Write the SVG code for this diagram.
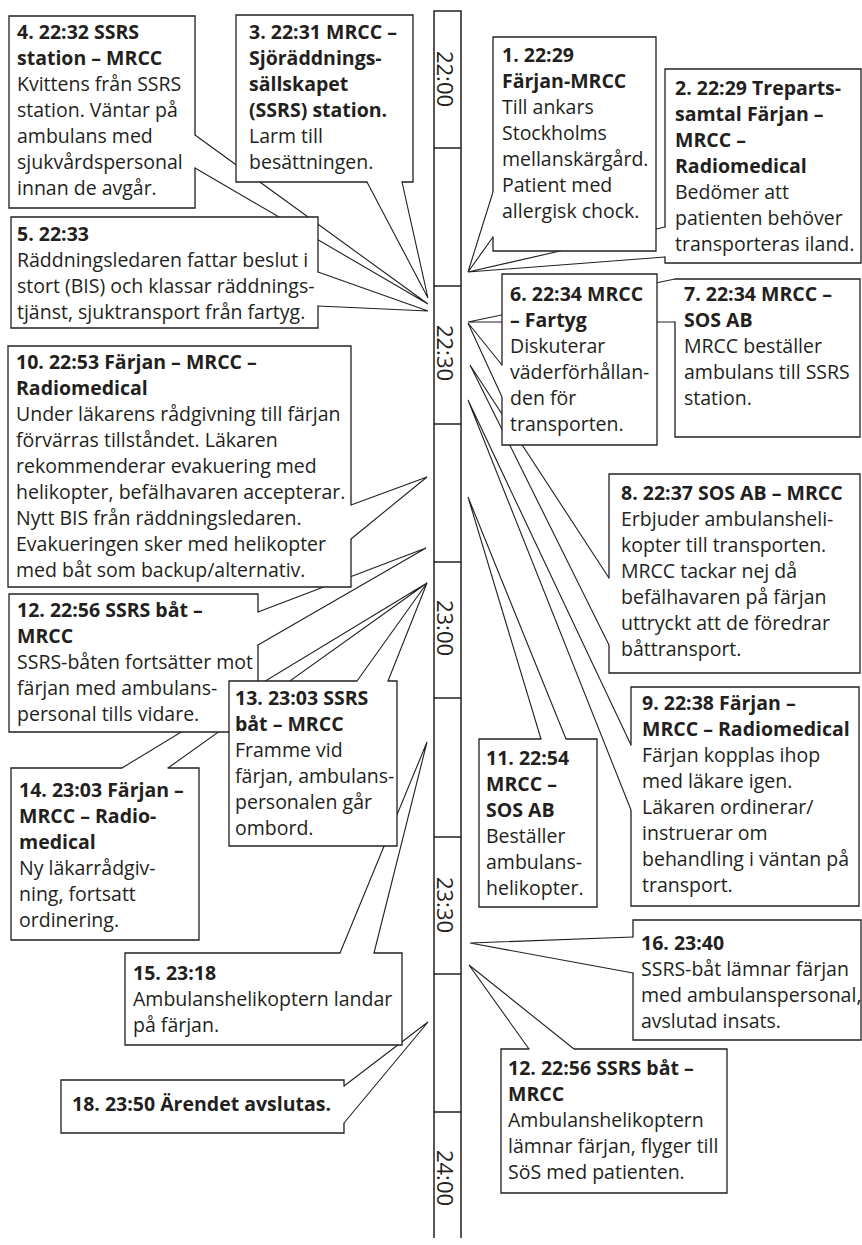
<svg xmlns="http://www.w3.org/2000/svg" width="862" height="1245" viewBox="0 0 862 1245">
<style>
.bx{fill:#fff;stroke:#231f20;stroke-width:1.3;stroke-linejoin:miter;stroke-linecap:round}
.cn{fill:none;stroke:#231f20;stroke-width:1.1;stroke-linejoin:miter}
.tl{fill:none;stroke:#231f20;stroke-width:1.5}
text{font-family:"Open Sans","Noto Sans","Liberation Sans",sans-serif;fill:#231f20}
.t{font-size:19.5px}
.b{font-weight:bold}
.tm{font-size:22px}
</style>
<rect width="862" height="1245" fill="#fff"/>
<g id="timeline">
<path class="tl" d="M434,1238 V11 H461 V1238 M434,148 H461 M434,286 H461 M434,424 H461 M434,562 H461 M434,698 H461 M434,837 H461 M434,974 H461 M434,1112 H461"/>
<text class="tm" text-anchor="middle" transform="translate(437,79) rotate(90)">22:00</text>
<text class="tm" text-anchor="middle" transform="translate(437,353) rotate(90)">22:30</text>
<text class="tm" text-anchor="middle" transform="translate(437,628) rotate(90)">23:00</text>
<text class="tm" text-anchor="middle" transform="translate(437,905) rotate(90)">23:30</text>
<text class="tm" text-anchor="middle" transform="translate(437,1178) rotate(90)">24:00</text>
</g>
<g id="connectors">
<polyline class="cn" points="493,192 468,272 493,237"/>
<polyline class="cn" points="665,227 468,272 665,257"/>
<polyline class="cn" points="367,182 428,298 402,182"/>
<polyline class="cn" points="195,135 428,304 195,168"/>
<polyline class="cn" points="318,272 428,311 318,306"/>
<polyline class="cn" points="502,365 468,323 502,397"/>
<polyline class="cn" points="675,279 468,322 675,322"/>
<polyline class="cn" points="609,578 470,365 609,645"/>
<polyline class="cn" points="631,745 468,400 631,810"/>
<polyline class="cn" points="351,505 427,477 351,539"/>
<polyline class="cn" points="541,739 468,497 566,739"/>
<polyline class="cn" points="258,612 426,548 258,645"/>
<polyline class="cn" points="357,681 427,583 388,681"/>
<polyline class="cn" points="122,768 427,583 168,768"/>
<polyline class="cn" points="340,953 427,742 374,953"/>
<polyline class="cn" points="633,937 470,943 633,973"/>
<polyline class="cn" points="529,1049 469,965 574,1049"/>
<polyline class="cn" points="344,1086 428,1022 344,1123"/>
</g>
<g id="n4">
<path class="bx" d="M195,168 V208 H9 V16 H195 V135"/>
<text class="t"><tspan class="b" x="17" y="39">4. 22:32 SSRS</tspan><tspan class="b" x="17" y="65">station – MRCC</tspan><tspan x="17" y="91">Kvittens från SSRS</tspan><tspan x="17" y="117">station. Väntar på</tspan><tspan x="17" y="143">ambulans med</tspan><tspan x="17" y="169">sjukvårdspersonal</tspan><tspan x="17" y="195">innan de avgår.</tspan></text>
</g>
<g id="n3">
<path class="bx" d="M402,182 H413 V15 H236 V182 H367"/>
<text class="t"><tspan class="b" x="249" y="39">3. 22:31 MRCC –</tspan><tspan class="b" x="249" y="65">Sjöräddnings-</tspan><tspan class="b" x="249" y="91">sällskapet</tspan><tspan class="b" x="249" y="117">(SSRS) station.</tspan><tspan x="249" y="143">Larm till</tspan><tspan x="249" y="169">besättningen.</tspan></text>
</g>
<g id="n5">
<path class="bx" d="M318,306 V328 H11 V217 H318 V272"/>
<text class="t"><tspan class="b" x="17" y="241">5. 22:33</tspan><tspan x="17" y="267">Räddningsledaren fattar beslut i</tspan><tspan x="17" y="293">stort (BIS) och klassar räddnings-</tspan><tspan x="17" y="319">tjänst, sjuktransport från fartyg.</tspan></text>
</g>
<g id="n1">
<path class="bx" d="M493,237 V251 H656 V37 H493 V192"/>
<text class="t"><tspan class="b" x="502" y="62">1. 22:29</tspan><tspan class="b" x="502" y="88">Färjan-MRCC</tspan><tspan x="502" y="114">Till ankars</tspan><tspan x="502" y="140">Stockholms</tspan><tspan x="502" y="166">mellanskärgård.</tspan><tspan x="502" y="192">Patient med</tspan><tspan x="502" y="218">allergisk chock.</tspan></text>
</g>
<g id="n2">
<path class="bx" d="M665,257 V263 H861 V69 H665 V227"/>
<text class="t"><tspan class="b" x="675" y="95">2. 22:29 Treparts-</tspan><tspan class="b" x="675" y="121">samtal Färjan –</tspan><tspan class="b" x="675" y="147">MRCC –</tspan><tspan class="b" x="675" y="173">Radiomedical</tspan><tspan x="675" y="199">Bedömer att</tspan><tspan x="675" y="225">patienten behöver</tspan><tspan x="675" y="251">transporteras iland.</tspan></text>
</g>
<g id="n6">
<path class="bx" d="M502,397 V445 H657 V274 H502 V365"/>
<text class="t"><tspan class="b" x="510" y="301">6. 22:34 MRCC</tspan><tspan class="b" x="510" y="327">– Fartyg</tspan><tspan x="510" y="353">Diskuterar</tspan><tspan x="510" y="379">väderförhållan-</tspan><tspan x="510" y="405">den för</tspan><tspan x="510" y="431">transporten.</tspan></text>
</g>
<g id="n7">
<path class="bx" d="M675,322 V437 H860 V279 H675"/>
<text class="t"><tspan class="b" x="684" y="301">7. 22:34 MRCC –</tspan><tspan class="b" x="684" y="327">SOS AB</tspan><tspan x="684" y="353">MRCC beställer</tspan><tspan x="684" y="379">ambulans till SSRS</tspan><tspan x="684" y="405">station.</tspan></text>
</g>
<g id="n8">
<path class="bx" d="M609,645 V673 H860 V474 H609 V578"/>
<text class="t"><tspan class="b" x="621" y="500">8. 22:37 SOS AB – MRCC</tspan><tspan x="621" y="526">Erbjuder ambulansheli-</tspan><tspan x="621" y="552">kopter till transporten.</tspan><tspan x="621" y="578">MRCC tackar nej då</tspan><tspan x="621" y="604">befälhavaren på färjan</tspan><tspan x="621" y="630">uttryckt att de föredrar</tspan><tspan x="621" y="656">båttransport.</tspan></text>
</g>
<g id="n9">
<path class="bx" d="M631,810 V906 H859 V687 H631 V745"/>
<text class="t"><tspan class="b" x="642" y="710">9. 22:38 Färjan –</tspan><tspan class="b" x="642" y="736">MRCC – Radiomedical</tspan><tspan x="642" y="762">Färjan kopplas ihop</tspan><tspan x="642" y="788">med läkare igen.</tspan><tspan x="642" y="814">Läkaren ordinerar/</tspan><tspan x="642" y="840">instruerar om</tspan><tspan x="642" y="866">behandling i väntan på</tspan><tspan x="642" y="892">transport.</tspan></text>
</g>
<g id="n10">
<path class="bx" d="M351,539 V587 H8 V346 H351 V505"/>
<text class="t"><tspan class="b" x="16" y="369">10. 22:53 Färjan – MRCC –</tspan><tspan class="b" x="16" y="395">Radiomedical</tspan><tspan x="16" y="421">Under läkarens rådgivning till färjan</tspan><tspan x="16" y="447">förvärras tillståndet. Läkaren</tspan><tspan x="16" y="473">rekommenderar evakuering med</tspan><tspan x="16" y="499">helikopter, befälhavaren accepterar.</tspan><tspan x="16" y="525">Nytt BIS från räddningsledaren.</tspan><tspan x="16" y="551">Evakueringen sker med helikopter</tspan><tspan x="16" y="577">med båt som backup/alternativ.</tspan></text>
</g>
<g id="n11">
<path class="bx" d="M566,739 H597 V907 H479 V739 H541"/>
<text class="t"><tspan class="b" x="486" y="765">11. 22:54</tspan><tspan class="b" x="486" y="791">MRCC –</tspan><tspan class="b" x="486" y="817">SOS AB</tspan><tspan x="486" y="843">Beställer</tspan><tspan x="486" y="869">ambulans-</tspan><tspan x="486" y="895">helikopter.</tspan></text>
</g>
<g id="n12">
<path class="bx" d="M258,645 V732 H9 V594 H258 V612"/>
<text class="t"><tspan class="b" x="17" y="617">12. 22:56 SSRS båt –</tspan><tspan class="b" x="17" y="643">MRCC</tspan><tspan x="17" y="669">SSRS-båten fortsätter mot</tspan><tspan x="17" y="695">färjan med ambulans-</tspan><tspan x="17" y="721">personal tills vidare.</tspan></text>
</g>
<g id="n13">
<path class="bx" d="M388,681 H397 V846 H229 V681 H357"/>
<text class="t"><tspan class="b" x="235" y="705">13. 23:03 SSRS</tspan><tspan class="b" x="235" y="731">båt – MRCC</tspan><tspan x="235" y="757">Framme vid</tspan><tspan x="235" y="783">färjan, ambulans-</tspan><tspan x="235" y="809">personalen går</tspan><tspan x="235" y="835">ombord.</tspan></text>
</g>
<g id="n14">
<path class="bx" d="M168,768 H199 V940 H11 V768 H122"/>
<text class="t"><tspan class="b" x="19" y="797">14. 23:03 Färjan –</tspan><tspan class="b" x="19" y="823">MRCC – Radio-</tspan><tspan class="b" x="19" y="849">medical</tspan><tspan x="19" y="875">Ny läkarrådgiv-</tspan><tspan x="19" y="901">ning, fortsatt</tspan><tspan x="19" y="927">ordinering.</tspan></text>
</g>
<g id="n15">
<path class="bx" d="M374,953 H402 V1045 H125 V953 H340"/>
<text class="t"><tspan class="b" x="133" y="980">15. 23:18</tspan><tspan x="133" y="1006">Ambulanshelikoptern landar</tspan><tspan x="133" y="1032">på färjan.</tspan></text>
</g>
<g id="n16">
<path class="bx" d="M633,973 V1040 H861 V920 H633 V937"/>
<text class="t"><tspan class="b" x="641" y="950">16. 23:40</tspan><tspan x="641" y="976">SSRS-båt lämnar färjan</tspan><tspan x="641" y="1002">med ambulanspersonal,</tspan><tspan x="641" y="1028">avslutad insats.</tspan></text>
</g>
<g id="n17">
<path class="bx" d="M574,1049 H727 V1193 H501 V1049 H529"/>
<text class="t"><tspan class="b" x="508" y="1075">12. 22:56 SSRS båt –</tspan><tspan class="b" x="508" y="1101">MRCC</tspan><tspan x="508" y="1127">Ambulanshelikoptern</tspan><tspan x="508" y="1153">lämnar färjan, flyger till</tspan><tspan x="508" y="1179">SöS med patienten.</tspan></text>
</g>
<g id="n18">
<path class="bx" d="M344,1123 V1133 H61 V1080 H344 V1086"/>
<text class="t"><tspan class="b" x="72" y="1111">18. 23:50 Ärendet avslutas.</tspan></text>
</g>
</svg>
